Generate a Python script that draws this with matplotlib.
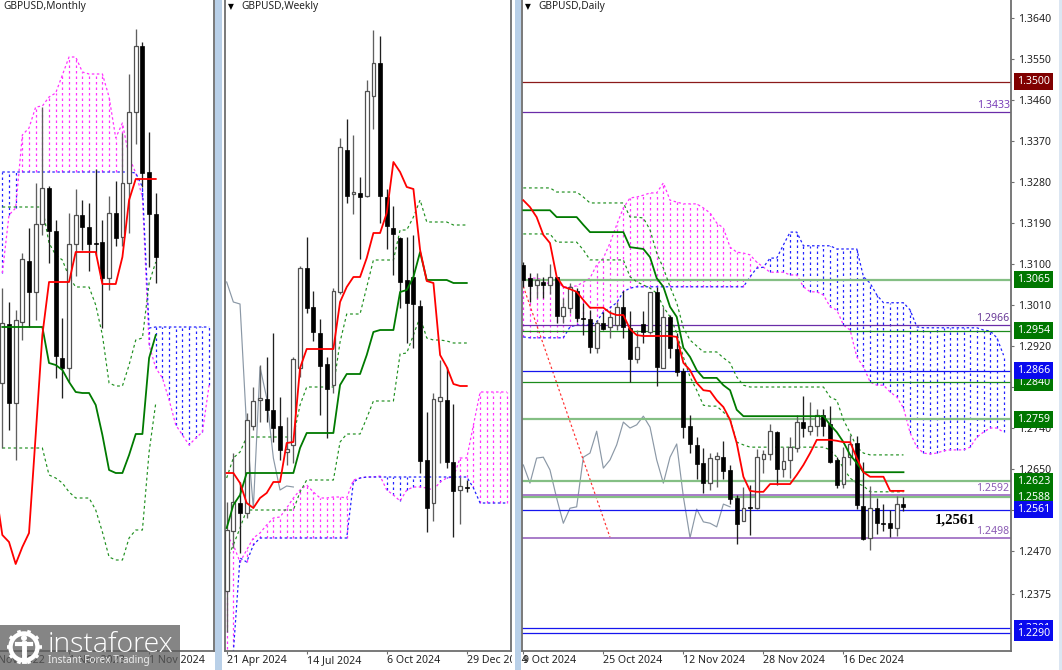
import numpy as np
import matplotlib
matplotlib.use('Agg')
import matplotlib.pyplot as plt
from matplotlib.patches import Rectangle, Circle
from matplotlib.transforms import blended_transform_factory

plt.rcParams['font.family'] = ['Noto Sans', 'DejaVu Sans']

# ---- monthly pane ----
m_open = [1.1968,1.2204,1.1888,1.2212,1.2456,1.2332,1.2604,1.2748,1.2576,1.2068,1.2028,1.2524,
          1.2640,1.2592,1.2528,1.2532,1.2388,1.2648,1.2552,1.2768,1.3052,1.3316,1.2812,1.2644]
m_close = [1.2208,1.1888,1.2220,1.2464,1.2332,1.2604,1.2748,1.2576,1.2076,1.2028,1.2524,1.2640,
           1.2592,1.2524,1.2524,1.2388,1.2648,1.2548,1.2768,1.3052,1.3316,1.2808,1.2644,1.2472]
m_high = [1.2348,1.2292,1.2260,1.2488,1.2588,1.2768,1.3072,1.2756,1.2620,1.2228,1.2648,1.2744,
          1.2700,1.2688,1.2824,1.2620,1.2716,1.2776,1.2968,1.3204,1.3384,1.3332,1.2972,1.2728]
m_low = [1.1708,1.1780,1.1660,1.2140,1.2192,1.2220,1.2560,1.2448,1.1988,1.1908,1.1972,1.2396,
         1.2500,1.2416,1.2480,1.2188,1.2340,1.2516,1.2516,1.2568,1.2924,1.2752,1.2432,1.2368]
m_tenkan = [1.1540,1.1360,1.1332,1.1244,1.1312,1.1368,1.1760,1.2160] + [1.2372]*4 + [1.2492]*4 \
    + [1.2364]*3 + [1.2472,1.2700] + [1.2784]*4
m_kijun = [1.2192]*7 + [1.2048,1.2040,1.2020,1.1972,1.1932,1.1928,1.1928,1.1880,1.1760,1.1620,
                        1.1608,1.1608,1.1680,1.1764,1.1764,1.2068,1.2160]
m_upper = [1.2672]*7 + [1.2528,1.2480,1.2460,1.2392,1.2352,1.2352,1.2352,1.2280,1.2160,1.1968,
                        1.1956,1.1956,1.2040,1.2140,1.2148,1.2368,1.2452]
m_lower = [1.1708]*7 + [1.1600,1.1588,1.1568,1.1532,1.1508,1.1508,1.1508,1.1460,1.1372,1.1272,
                        1.1260,1.1260,1.1348,1.1380,1.1380,1.1692,1.1888]
m_span_a = [1.2408,1.2640,1.2668,1.2960,1.2988,1.3072,1.3076,1.3112,1.3128,1.3200,1.3272,1.3272,
            1.3212,1.3204,1.3204,1.3204,1.3112,1.2948,1.3008,1.2872,1.2808,1.2712,1.2120,1.2028,
            1.1988,1.1900,1.1800,1.1760,1.1720,1.1748,1.1772,1.1960]
m_span_b = [1.2812]*20 + [1.2808,1.2752,1.2188] + [1.2192]*9
m_ticks = [-2, 10, 22]
m_tick_labels = ['1 Nov 2022', '1 Nov 2023', '1 Nov 2024']

# ---- weekly pane ----
w_open = [1.2318,1.2438,1.2494,1.2474,1.2648,1.2700,1.2702,1.2680,1.2648,1.2596,1.2610,1.2764,
          1.2964,1.2886,1.2834,1.2772,1.2730,1.2916,1.3200,1.3112,1.3114,1.3108,1.3308,1.3374,
          1.3106,1.3044,1.3024,1.2940,1.2946,1.2888,1.2580,1.2494,1.2698,1.2700,1.2576,1.2520,1.2526]
w_close = [1.2440,1.2496,1.2474,1.2660,1.2698,1.2704,1.2680,1.2644,1.2600,1.2602,1.2782,1.2964,
           1.2884,1.2836,1.2768,1.2722,1.2918,1.3206,1.3108,1.3116,1.3106,1.3318,1.3374,1.3108,
           1.3048,1.3032,1.2936,1.2894,1.2892,1.2578,1.2484,1.2702,1.2706,1.2576,1.2518,1.2528,1.2525]
w_high = [1.2496,1.2594,1.2536,1.2674,1.2726,1.2770,1.2786,1.2834,1.2706,1.2666,1.2786,1.2968,
          1.3026,1.2918,1.2862,1.2786,1.2924,1.3224,1.3262,1.3230,1.3146,1.3340,1.3440,1.3428,
          1.3122,1.3088,1.3026,1.3026,1.3030,1.2900,1.2676,1.2714,1.2780,1.2766,1.2692,1.2546,1.2540]
w_low = [1.2236,1.2404,1.2394,1.2464,1.2640,1.2656,1.2656,1.2616,1.2580,1.2570,1.2574,1.2746,
         1.2874,1.2818,1.2670,1.2624,1.2714,1.2912,1.3094,1.3072,1.2982,1.3106,1.3242,1.3054,
         1.3002,1.2950,1.2884,1.2814,1.2804,1.2554,1.2436,1.2458,1.2574,1.2564,1.2426,1.2452,1.2516]
w_tenkan = [1.2554,1.2554,1.2534,1.2494,1.2484,1.2504,1.2514,1.2536,1.2536,1.2614,1.2616,1.2764] \
    + [1.2802]*5 + [1.2896,1.2926,1.2946,1.2946,1.2984,1.3034,1.3034,1.3074,1.3176,1.3156,1.3126,
                    1.3122,1.3000,1.2938,1.2934,1.2790,1.2766,1.2732,1.2728,1.2728]
w_kijun = [1.2444,1.2490,1.2510] + [1.2554]*8 + [1.2604] + [1.2634]*5 + [1.2730] + [1.2752]*3 \
    + [1.2790,1.2836] + [1.2840]*3 + [1.2916,1.2920,1.2946,1.2996] + [1.2940]*4 + [1.2934]*3
w_upper = [1.2544,1.2584,1.2596] + [1.2626]*8 + [1.2690] + [1.2726]*5 + [1.2816] + [1.2872]*3 \
    + [1.2926] + [1.2980]*4 + [1.3040,1.3040,1.3066,1.3100] + [1.3056]*4 + [1.3050]*3
w_lower = [1.2380,1.2410,1.2444] + [1.2480]*8 + [1.2516] + [1.2540]*5 + [1.2616] + [1.2632]*3 \
    + [1.2664] + [1.2698]*4 + [1.2792,1.2794,1.2830,1.2866,1.2824,1.2820,1.2820,1.2818] + [1.2814]*3
w_chikou = [1.2936,1.2896,1.2892,1.2644,1.2484,1.2766,1.2704,1.2584,1.2520,1.2528,1.2526]
w_span_a = [1.2430,1.2410,1.2376,1.2400,1.2424,1.2434,1.2450,1.2464,1.2466,1.2484,1.2504,1.2520,
            1.2530,1.2516,1.2504,1.2504,1.2506,1.2506,1.2504,1.2540,1.2544,1.2546,1.2546,1.2548,
            1.2520,1.2510,1.2498,1.2520,1.2526,1.2526,1.2524,1.2520,1.2536,1.2544,1.2546,1.2584,
            1.2584,1.2650] + [1.2716]*5
w_span_b = [1.2180,1.2196,1.2384,1.2376,1.2410] + [1.2424]*14 + [1.2536,1.2544] + [1.2546]*16 \
    + [1.2524] + [1.2494]*5
w_ticks = [0, 12, 24, 36]
w_tick_labels = ['21 Apr 2024', '14 Jul 2024', '6 Oct 2024', '29 Dec 2024']

# ---- daily pane ----
d_open = [1.3097,1.3069,1.3053,1.3060,1.3053,1.3071,1.2986,1.3003,1.3041,1.2982,
          1.2980,1.2916,1.2971,1.2962,1.2966,1.3006,1.2960,1.2892,1.2968,1.2951,
          1.3039,1.2872,1.2984,1.2914,1.2865,1.2744,1.2703,1.2663,1.2619,1.2672,
          1.2676,1.2648,1.2586,1.2536,1.2567,1.2565,1.2672,1.2683,1.2731,1.2650,
          1.2670,1.2696,1.2753,1.2733,1.2744,1.2769,1.2749,1.2670,1.2617,1.2676,
          1.2707,1.2569,1.2498,1.2565,1.2532,1.2532,1.2521,1.2573]
d_close = [1.3064,1.3052,1.3064,1.3053,1.3071,1.2986,1.3006,1.3050,1.2982,1.2980,
           1.2918,1.2971,1.2957,1.2984,1.3006,1.2962,1.2892,1.2918,1.2951,1.3039,
           1.2874,1.2984,1.2916,1.2863,1.2742,1.2705,1.2661,1.2619,1.2674,1.2679,
           1.2646,1.2584,1.2529,1.2565,1.2565,1.2676,1.2683,1.2733,1.2650,1.2668,
           1.2698,1.2753,1.2740,1.2744,1.2769,1.2744,1.2665,1.2615,1.2676,1.2705,
           1.2571,1.2496,1.2565,1.2532,1.2529,1.2521,1.2573,1.2567]
d_high = [1.3104,1.3080,1.3080,1.3071,1.3100,1.3071,1.3025,1.3058,1.3047,1.3014,
          1.2999,1.2977,1.2995,1.2999,1.3017,1.3041,1.2997,1.2955,1.2997,1.3039,
          1.3050,1.3006,1.2988,1.2949,1.2872,1.2769,1.2720,1.2696,1.2685,1.2687,
          1.2711,1.2659,1.2593,1.2611,1.2615,1.2694,1.2692,1.2749,1.2733,1.2698,
          1.2720,1.2769,1.2810,1.2797,1.2782,1.2782,1.2788,1.2676,1.2698,1.2725,
          1.2722,1.2665,1.2613,1.2586,1.2573,1.2560,1.2591,1.2589]
d_low = [1.3049,1.3017,1.3025,1.3025,1.3034,1.2970,1.2970,1.2992,1.2973,1.2944,
         1.2905,1.2905,1.2955,1.2938,1.2955,1.2938,1.2841,1.2883,1.2927,1.2946,
         1.2832,1.2872,1.2894,1.2854,1.2718,1.2685,1.2628,1.2597,1.2604,1.2611,
         1.2628,1.2573,1.2485,1.2536,1.2505,1.2562,1.2641,1.2670,1.2615,1.2632,
         1.2630,1.2687,1.2720,1.2725,1.2722,1.2722,1.2663,1.2608,1.2608,1.2659,
         1.2562,1.2494,1.2472,1.2508,1.2514,1.2501,1.2503,1.2558]
d_tenkan = [1.3240,1.3225,1.3203,1.3164,1.3146,1.3072,1.3050,1.3045,1.3039,1.3021,
            1.3004,1.3004,1.3004,1.2993,1.2988,1.2988,1.2957,1.2944,1.2942,1.2942,
            1.2942,1.2942,1.2942,1.2940,1.2883,1.2867,1.2839,1.2823,1.2821,1.2801,
            1.2786,1.2758,1.2707,1.2633,1.2602,1.2600,1.2600,1.2617,1.2617,1.2617,
            1.2617,1.2637,1.2659,1.2685,1.2714,1.2714,1.2714,1.2712,1.2709,1.2709,
            1.2674,1.2643,1.2633,1.2633,1.2633,1.2602,1.2602,1.2602]
d_kijun = [1.3218]*5 + [1.3203]*4 + [1.3186] + [1.3170]*6 \
    + [1.3137,1.3135,1.3133,1.3115,1.3069,1.3050,1.3006,1.2984,1.2916,1.2896,1.2867,
       1.2850,1.2850,1.2850,1.2834,1.2823,1.2780] \
    + [1.2766]*13 + [1.2747,1.2731,1.2709,1.2681,1.2663] + [1.2643]*7
d_upper = [1.3267]*5 + [1.3258]*4 + [1.3247] + [1.3234]*6 \
    + [1.3203,1.3203,1.3201,1.3175,1.3124,1.3091,1.3050,1.3015,1.2960,1.2933,1.2920,
       1.2907,1.2907,1.2907,1.2894,1.2883,1.2852,1.2834] \
    + [1.2830]*12 + [1.2808,1.2801,1.2758,1.2729,1.2698,1.2685] + [1.2681]*6
d_lower = [1.3166]*5 + [1.3148]*4 + [1.3131] + [1.3109]*6 \
    + [1.3072,1.3061,1.3054,1.3047,1.3036,1.3006,1.2984,1.2949,1.2896,1.2852,1.2823,
       1.2790,1.2788,1.2788,1.2775,1.2760,1.2709,1.2703] \
    + [1.2698]*12 + [1.2692,1.2676,1.2652,1.2630,1.2619,1.2613] + [1.2600]*6
d_chikou = [1.2659,1.2619,1.2674,1.2676,1.2648,1.2586,1.2531,1.2564,1.2567,1.2676,1.2685,
            1.2733,1.2652,1.2670,1.2703,1.2753,1.2740,1.2747,1.2766,1.2742,1.2670,1.2619,
            1.2676,1.2705,1.2589,1.2499,1.2562,1.2534,1.2531,1.2523,1.2573,1.2567]
d_span_a = [1.3065,1.3069,1.3069,1.3065,1.3054,1.3060,1.3050,1.3050,1.3052,1.3060,
            1.3069,1.3098,1.3113,1.3146,1.3186,1.3223,1.3245,1.3247,1.3251,1.3256,
            1.3256,1.3278,1.3240,1.3236,1.3232,1.3232,1.3232,1.3223,1.3212,1.3190,
            1.3179,1.3137,1.3126,1.3124,1.3120,1.3104,1.3093,1.3082,1.3082,1.3082,
            1.3076,1.3076,1.3050,1.3039,1.3039,1.3032,1.3006,1.2999,1.2966,1.2955,
            1.2896,1.2874,1.2841,1.2834,1.2834,1.2819,1.2808,1.2784,1.2729,1.2698,
            1.2685,1.2683,1.2685,1.2690,1.2692,1.2692,1.2692,1.2698,1.2720,1.2731,
            1.2740,1.2740,1.2731]
d_span_b = [1.2940] + [1.2938]*6 + [1.2962] + [1.2966]*3 \
    + [1.2973,1.2995,1.3004,1.3015,1.3039,1.3047] + [1.3050]*17 \
    + [1.3072,1.3091,1.3093,1.3113,1.3113,1.3142,1.3170,1.3170] + [1.3140]*5 + [1.3133]*4 \
    + [1.3072,1.3058,1.3032] + [1.3015]*4 + [1.2999,1.2962] + [1.2960]*9 \
    + [1.2955,1.2953,1.2938,1.2900]
d_trend_x = [0, 13]
d_trend = [1.3051, 1.2500]
d_price_ticks = [1.3640,1.3550,1.3460,1.3370,1.3280,1.3190,1.3100,1.3010,1.2920,1.2830,
                 1.2740,1.2650,1.2560,1.2470,1.2375]
d_ticks = [0, 12, 24, 36, 48]
d_tick_labels = ['9 Oct 2024', '25 Oct 2024', '12 Nov 2024', '28 Nov 2024', '16 Dec 2024']

green_levels = [1.3065, 1.2954, 1.2840, 1.2759, 1.2623, 1.2588]
blue_levels = [1.2866, 1.2561, 1.2301, 1.2290]
purple_levels = [1.3433, 1.2966, 1.2592, 1.2498]
red_level = 1.3500

W, H = 1062, 670
BOTTOM = 651
RED = '#ff0000'
GREEN = '#007a00'
MAGENTA = '#ff33ff'
BLUE = '#2222ff'
FRAME = '#6e6e6e'
TXT = '#222222'


def make_pane(x0, x1, xlim, ylim):
    ax = fig.add_axes([x0 / W, 1 - BOTTOM / H, (x1 - x0) / W, BOTTOM / H])
    ax.set_xlim(*xlim)
    ax.set_ylim(*ylim)
    ax.set_yticks([])
    ax.spines['top'].set_visible(False)
    for s in ['left', 'right', 'bottom']:
        ax.spines[s].set_color(FRAME)
        ax.spines[s].set_linewidth(1.3)
    return ax


def draw_cloud(ax, a, b):
    a = np.array(a)
    b = np.array(b)
    x = np.arange(len(a))
    pink = a >= b
    ax.vlines(x[pink], b[pink], a[pink], color=MAGENTA, lw=0.9, linestyles=(0, (2, 2.4)), zorder=1)
    ax.vlines(x[~pink], a[~pink], b[~pink], color=BLUE, lw=0.9, linestyles=(0, (2, 2.4)), zorder=1)
    ax.plot(x, a, color=MAGENTA, lw=0.9, ls=(0, (2, 2)), zorder=1)
    ax.plot(x, b, color=BLUE, lw=0.9, ls=(0, (2, 2)), zorder=1)


def draw_candles(ax, o, h, l, c):
    o, h, l, c = map(np.array, (o, h, l, c))
    x = np.arange(len(o))
    top = np.maximum(o, c)
    bot = np.minimum(o, c)
    down = c < o
    ax.vlines(x[down], l[down], h[down], color='#202020', lw=0.95, zorder=3)
    ax.vlines(x[~down], l[~down], h[~down], color='#606060', lw=0.95, zorder=3)
    ax.bar(x[down], (top - bot)[down], bottom=bot[down], width=0.6, color='black',
           edgecolor='black', lw=0.5, zorder=4)
    ax.bar(x[~down], (top - bot)[~down], bottom=bot[~down], width=0.56, color='white',
           edgecolor='#505050', lw=0.9, zorder=4)


def draw_ichimoku(ax, tenkan, kijun, upper, lower, t_start=0):
    ax.plot(np.arange(len(upper)), upper, color='#1f8f1f', lw=0.85, ls=(0, (2.4, 2.4)), zorder=2)
    ax.plot(np.arange(len(lower)), lower, color='#1f8f1f', lw=0.85, ls=(0, (2.4, 2.4)), zorder=2)
    ax.plot(np.arange(len(kijun)), kijun, color=GREEN, lw=1.3, zorder=5)
    ax.plot(np.arange(len(tenkan)) + t_start, tenkan, color=RED, lw=1.3, zorder=5)


def time_axis(ax, ticks, labels):
    tr = blended_transform_factory(ax.transData, fig.transFigure)
    vis = [t for t in ticks if ax.get_xlim()[0] <= t <= ax.get_xlim()[1]]
    ax.set_xticks(vis)
    ax.set_xticklabels([])
    ax.tick_params(axis='x', length=2.5, width=0.8, color=FRAME)
    for t, lab in zip(ticks, labels):
        ax.text(t, 1 - 660.5 / H, lab, transform=tr, fontsize=7.6, color=TXT, ha='left',
                va='center', clip_on=False)


def pane_title(x_px, text, arrow_px=None):
    y = 1 - 6.5 / H
    if arrow_px is not None:
        fig.text(arrow_px / W, y, '\u25bc', fontsize=5.5, color='black', ha='left', va='center',
                 family='DejaVu Sans')
    fig.text(x_px / W, y, text, fontsize=7.3, color=TXT, ha='left', va='center')


fig = plt.figure(figsize=(W / 100, H / 100), dpi=100, facecolor='white')

# monthly
ax_m = make_pane(0, 214, (-0.35, 31.73), (1.35 - 0.0004 * BOTTOM, 1.35))
draw_cloud(ax_m, m_span_a, m_span_b)
draw_ichimoku(ax_m, m_tenkan, m_kijun, m_upper, m_lower, t_start=-1)
draw_candles(ax_m, m_open, m_high, m_low, m_close)
time_axis(ax_m, m_ticks, m_tick_labels)
ax_m.spines['left'].set_visible(False)
pane_title(3, 'GBPUSD,Monthly')

# weekly
ax_w = make_pane(225, 511, (-0.25, 42.63), (1.35 - 0.0002 * BOTTOM, 1.35))
draw_cloud(ax_w, w_span_a, w_span_b)
ax_w.plot(np.arange(len(w_chikou)), w_chikou, color='#8b98a6', lw=0.85, zorder=2)
draw_ichimoku(ax_w, w_tenkan, w_kijun, w_upper, w_lower)
draw_candles(ax_w, w_open, w_high, w_low, w_close)
time_axis(ax_w, w_ticks, w_tick_labels)
pane_title(241, 'GBPUSD,Weekly', arrow_px=228)

# daily
ax_d = make_pane(522, 1011, (-0.195, 73.12), (1.36795 - 0.0002195 * BOTTOM, 1.36795))
draw_cloud(ax_d, d_span_a, d_span_b)
ax_d.plot(np.arange(len(d_chikou)), d_chikou, color='#8b98a6', lw=0.85, zorder=2)
ax_d.plot(d_trend_x, d_trend, color='#ff3030', lw=0.85, ls=(0, (2, 2)), zorder=2)
for p in green_levels:
    thin = p in (1.2954, 1.2840)
    ax_d.axhline(p, color='#1c8c1c' if thin else '#84bf84', lw=0.9 if thin else 1.6, zorder=2)
for p in blue_levels:
    ax_d.axhline(p, color='#1515ee', lw=0.9, zorder=2)
for p in purple_levels:
    ax_d.axhline(p, color='#6a2ca8' if p > 1.26 else '#9a66c0', lw=0.9 if p > 1.26 else 1.2, zorder=2)
ax_d.axhline(red_level, color='#8b1a1a', lw=0.9, zorder=2)
draw_ichimoku(ax_d, d_tenkan, d_kijun, d_upper, d_lower)
draw_candles(ax_d, d_open, d_high, d_low, d_close)
time_axis(ax_d, d_ticks, d_tick_labels)
pane_title(538, 'GBPUSD,Daily', arrow_px=525)

ax_d.yaxis.tick_right()
ax_d.set_yticks(d_price_ticks)
ax_d.set_yticklabels(['%.4f' % p for p in d_price_ticks], fontsize=7.6, color=TXT)
ax_d.tick_params(axis='y', length=2.5, width=0.8, color=FRAME, pad=2.6)

# coloured price labels on the right scale
tr_r = blended_transform_factory(ax_d.transAxes, ax_d.transData)
for prices, col in [(green_levels, '#007700'), (blue_levels, '#0a0aee'), ([red_level], '#800000')]:
    for p in prices:
        ax_d.text(1.0123, p, '%.4f' % p, transform=tr_r, fontsize=7.6, color='white', ha='left',
                  va='center', clip_on=False, zorder=20 if p != 1.2301 else 19,
                  bbox=dict(boxstyle='square,pad=0.28', fc=col, ec=col, lw=0))

# purple level captions
for p, col in [(1.3433, '#7a3fb8'), (1.2966, '#6a3a98'), (1.2592, '#8a5ab4'), (1.2498, '#8a5ab4')]:
    ax_d.text(0.9972, p + 0.0003, '%.4f' % p, transform=tr_r, fontsize=7.6, color=col, ha='right',
              va='bottom', zorder=6)
ax_d.text(64.7, 1.2538, '1,2561', fontsize=10.6, family='Liberation Serif', weight='bold',
          color='black', ha='center', va='center', zorder=6)

# window borders between panes
for x0, x1, col in [(215, 222, '#b9d0e8'), (512, 515, 'white'), (515, 521, '#b9d0e8'),
                    (1059, 1062, '#dbe6f2')]:
    fig.add_artist(Rectangle((x0 / W, 0), (x1 - x0) / W, 1, transform=fig.transFigure,
                             fc=col, ec='none', zorder=5))

# instaforex watermark
ov = fig.add_axes([0, 0, 180 / W, 45 / H], zorder=10)
ov.set_xlim(0, 180)
ov.set_ylim(45, 0)
ov.axis('off')
ov.add_patch(Rectangle((0, 0), 180, 45, fc='#5c5c5c', alpha=0.75, ec='none'))
ov.add_patch(Circle((24, 22), 13.5, fc='none', ec='white', lw=3.2))
for ang in np.arange(0, 360, 36):
    r = np.radians(ang)
    ov.plot([24 + 14 * np.cos(r), 24 + 17.5 * np.cos(r)],
            [22 + 14 * np.sin(r), 22 + 17.5 * np.sin(r)], color='white', lw=2.6, solid_capstyle='butt')
ov.plot([24, 24], [18, 36], color='white', lw=3.5)
ov.plot([17, 31], [19, 19], color='white', lw=3)
ov.add_patch(Circle((24, 13), 3, fc='white', ec='none'))
ov.text(48, 20, 'instaforex', fontsize=20.5, color='white', family='Open Sans', ha='left',
        va='center', weight='light')
ov.text(48, 35.5, 'Instant Forex Trading', fontsize=7.2, color='#eeeeee', ha='left', va='center')

fig.savefig('out.png', dpi=100)
